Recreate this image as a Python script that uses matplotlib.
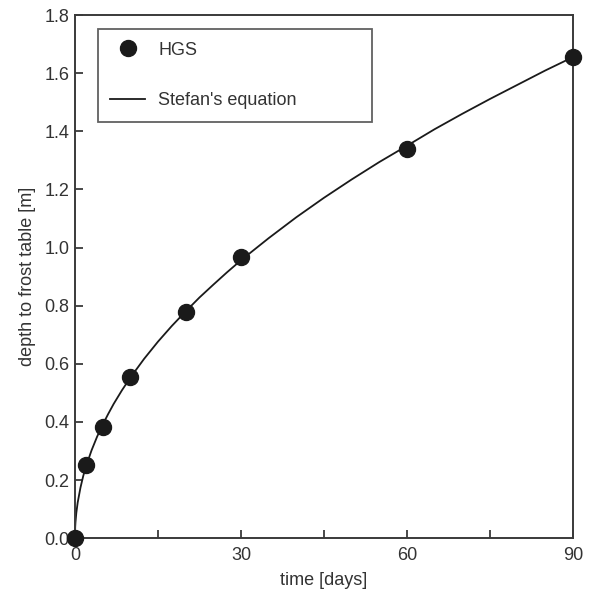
import matplotlib.pyplot as plt
from matplotlib.ticker import MultipleLocator

plt.rcParams['font.family'] = ['Liberation Sans', 'DejaVu Sans']

# HGS simulation points
hgs_days = [0, 2, 5, 10, 20, 30, 60, 90]
hgs_depth = [0.0, 0.252, 0.384, 0.553, 0.779, 0.966, 1.338, 1.655]

# Stefan's equation curve
stefan_days = [0, 0.05, 0.1, 0.25, 0.5, 1, 1.5, 2, 3, 4, 5, 6, 7, 8.5, 10,
               12.5, 15, 17.5, 20, 22.5, 25, 27.5, 30, 35, 40, 45, 50, 55,
               60, 65, 70, 75, 80, 85, 90]
stefan_depth = [0.0, 0.039, 0.055, 0.087, 0.123, 0.174, 0.214, 0.247, 0.302,
                0.349, 0.390, 0.427, 0.462, 0.509, 0.552, 0.617, 0.676,
                0.730, 0.780, 0.828, 0.872, 0.915, 0.956, 1.032, 1.104,
                1.171, 1.234, 1.294, 1.350, 1.407, 1.460, 1.511, 1.560,
                1.609, 1.655]

axis_col = '#3a3a3a'
txt_col = '#333333'
fig = plt.figure(figsize=(5.9, 6), dpi=100)
ax = fig.add_axes([0.127, 0.103, 0.844, 0.872])

ax.plot(stefan_days, stefan_depth, color='#1a1a1a', lw=1.3,
        label="Stefan's equation", clip_on=False, zorder=2)
ax.plot(hgs_days, hgs_depth, 'o', color='#1a1a1a', ms=11.5, label='HGS',
        clip_on=False, zorder=3)

ax.set_xlim(0, 90)
ax.set_ylim(0, 1.8)
ax.xaxis.set_major_locator(MultipleLocator(30))
ax.xaxis.set_minor_locator(MultipleLocator(15))
ax.yaxis.set_major_locator(MultipleLocator(0.2))
ax.yaxis.set_major_formatter(lambda v, p: f'{v:.1f}')

ax.tick_params(which='both', direction='in', color=axis_col, width=1.3,
               labelsize=13, labelcolor=txt_col)
ax.tick_params(axis='x', which='both', length=6, pad=6)
ax.tick_params(axis='y', length=6, pad=4)
for s in ax.spines.values():
    s.set_color(axis_col)
    s.set_linewidth(1.4)

ax.set_xlabel('time [days]', fontsize=13, color=txt_col, labelpad=6)
ax.set_ylabel('depth to frost table [m]', fontsize=13, color=txt_col,
              labelpad=6)

handles, labels = ax.get_legend_handles_labels()
leg = ax.legend(handles[::-1], labels[::-1], loc='upper left',
                bbox_to_anchor=(0.046, 0.973, 0.55, 0.0), mode='expand',
                borderaxespad=0, fancybox=False, numpoints=1, fontsize=13,
                handlelength=1.9, handletextpad=0.75, labelspacing=1.85,
                borderpad=0.7)
leg.get_frame().set_edgecolor(axis_col)
leg.get_frame().set_linewidth(1.3)
for t in leg.get_texts():
    t.set_color(txt_col)

fig.savefig('out.png', dpi=100)
